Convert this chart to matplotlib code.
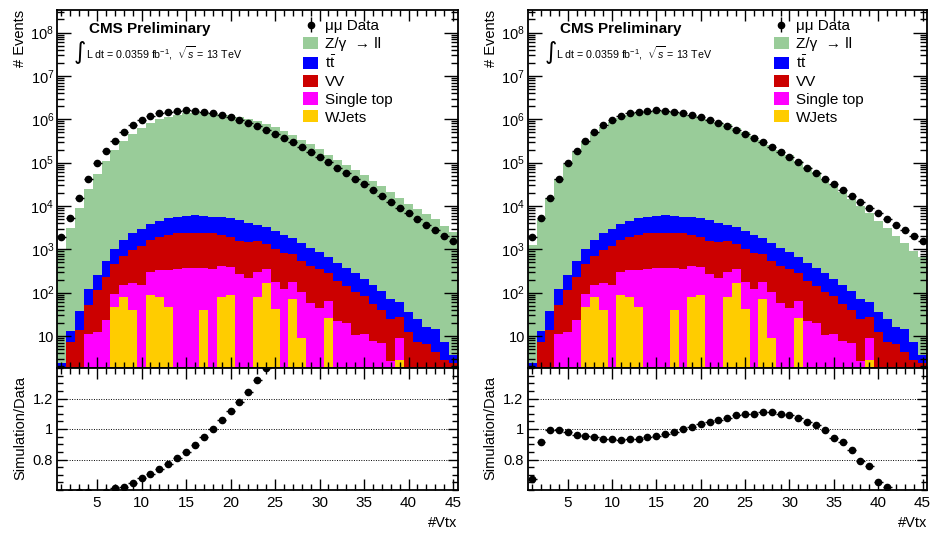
import numpy as np
import matplotlib
matplotlib.use("Agg")
import matplotlib.pyplot as plt
from matplotlib.patches import Patch
from matplotlib.ticker import FixedLocator, LogLocator, MultipleLocator, FuncFormatter, NullFormatter

plt.rcParams['font.family'] = ['Liberation Sans', 'DejaVu Sans']
plt.rcParams['mathtext.fontset'] = 'custom'
plt.rcParams['mathtext.rm'] = 'Liberation Sans'
plt.rcParams['mathtext.it'] = 'Liberation Sans:italic'
plt.rcParams['mathtext.bf'] = 'Liberation Sans:bold'

# ---------------- data ----------------
nvtx = np.arange(1, 46)

data = [1910, 5320, 15630, 41500, 96800, 186200, 321400, 501200, 727800, 948400,
        1172000, 1374000, 1496000, 1578000, 1611000, 1578000, 1472000, 1374000, 1256000, 1130000,
        979500, 835700, 707900, 566200, 465600, 376700, 295100, 230100, 176600, 135200,
        102100, 76740, 57940, 42170, 31770, 23120, 16830, 12590, 9040, 6920,
        5010, 3610, 2770, 2010, 1570]

wjets = [0, 0, 0, 0, 0, 0, 46, 80, 40, 0, 88, 81, 46, 0, 0, 0, 40, 0, 80, 88,
         0, 0, 80, 165, 42, 0, 72, 9.2, 0, 0, 26.5, 0, 0, 0, 0, 0, 0, 0, 2.8, 0,
         0, 0, 0, 0, 0]
single_top = [0, 0, 0, 11.2, 12.6, 24, 46, 70, 125, 150, 217, 252, 287, 346, 365, 365, 325, 355, 337, 310,
              269, 214, 225, 182, 135, 122, 105, 93, 57, 45, 38, 22, 19.7, 10.6, 11.2, 7.7, 6.8, 2.6, 6.4, 0,
              0, 0, 0, 0, 0]
vv = [1.2, 7.1, 13.8, 41, 102, 202, 365, 552, 799, 1061, 1332, 1617, 1805, 1998, 2050, 2050, 1979, 1989, 1682, 1490,
      1316, 1300, 1244, 977, 823, 710, 599, 435, 360, 307, 215, 164, 123, 92, 73, 47, 33, 21.8, 17.9, 12.6,
      7.1, 6.5, 4.2, 2.8, 2.4]
ttbar = [1.2, 6.2, 24, 68, 141, 311, 559, 935, 1380, 1727, 2130, 2621, 3038, 3279, 3528, 3652, 3599, 3279, 3359, 3288,
         3147, 2588, 2082, 1890, 1630, 1306, 1015, 837, 672, 499, 375, 304, 234, 178, 123, 95, 70, 47, 33, 22.7,
         17.7, 9.7, 10.2, 4.4, 1.3]

# Z/gamma -> ll, without (left) and with (right) pileup reweighting
dy_left = [998, 3077, 9145, 24260, 54690, 109060, 195300, 309600, 466400, 639200,
           820100, 1006400, 1144800, 1269400, 1366100, 1410900, 1388100, 1368400, 1322500, 1255800,
           1151300, 1035900, 931500, 789500, 673500, 544100, 426100, 337000, 262000, 202000,
           150700, 114300, 88750, 67330, 51080, 37000, 28070, 20820, 15080, 11190,
           8685, 6591, 4998, 3460, 2566]
dy_right = [1285, 4861, 15510, 41170, 94630, 178160, 305600, 472000, 677500, 882900,
            1085200, 1276400, 1394800, 1485400, 1534100, 1522900, 1439100, 1368400, 1269500, 1161800,
            1022300, 880900, 757400, 614000, 509100, 412700, 326400, 254500, 193300, 146700,
            109100, 79930, 58950, 41510, 29750, 21030, 14450, 9887, 6771, 4489,
            3077, 2026, 1399, 905, 657]

labels = ["Z/\u03b3  \u2192 ll", r"$\mathrm{t\bar{t}}$", "VV", "Single top", "WJets"]
colors = ["#99CC99", "#0000FF", "#CC0000", "#FF00FF", "#FFCC00"]

# ---------------- figure ----------------
W, H = 935, 533
fig = plt.figure(figsize=(W / 100, H / 100), dpi=100)

def fx(px):
    return px / W

def fy(py):
    return 1 - py / H

panels = [
    (57.0, 457.5, dy_left),
    (527.7, 927.0, dy_right),
]

edges = np.arange(0.5, 46.0, 1.0)
data_arr = np.array(data, dtype=float)

for (x0, x1, dy) in panels:
    ax = fig.add_axes([fx(x0), fy(368), fx(x1 - x0), (368 - 9.5) / H])
    axr = fig.add_axes([fx(x0), fy(490), fx(x1 - x0), (490 - 368) / H])

    # positions given in pixels relative to the left panel (frame starts at 57)
    def ax_x(px, x0=x0, x1=x1):
        return (px - 57.0) / (x1 - x0)

    def ax_y(py):
        return 1 - (py - 9.5) / (368 - 9.5)

    comps_bottom_up = [np.array(wjets, float), np.array(single_top, float), np.array(vv, float),
                       np.array(ttbar, float), np.array(dy, float)]
    cols_bottom_up = [colors[4], colors[3], colors[2], colors[1], colors[0]]
    cum = np.cumsum(np.vstack(comps_bottom_up), axis=0)
    for i in range(len(comps_bottom_up) - 1, -1, -1):
        ax.stairs(cum[i], edges, baseline=1e-3, fill=True, color=cols_bottom_up[i], lw=0)
    total = cum[-1]

    ax.errorbar(nvtx, data_arr, xerr=0.5, yerr=np.sqrt(data_arr), fmt='o', color='black',
                ms=4.5, elinewidth=1.0, capsize=0, zorder=5)
    # legend proxy for data (marker with vertical error bar), placed outside the x range
    h_data = ax.errorbar([-100], [1e3], yerr=[600], fmt='o', color='black', ms=4.5,
                         elinewidth=1.0, capsize=0)

    ax.set_yscale('log')
    ax.set_xlim(0.5, 45.5)
    ax.set_ylim(1.83, 3.4e8)
    ax.yaxis.set_major_locator(FixedLocator([10.0 ** k for k in range(1, 9)]))
    ax.yaxis.set_minor_locator(LogLocator(base=10, subs=np.arange(2, 10), numticks=20))
    ax.yaxis.set_minor_formatter(NullFormatter())
    ax.yaxis.set_major_formatter(FuncFormatter(
        lambda v, p: "10" if abs(v - 10) < 1e-6 else r"$10^{%d}$" % int(round(np.log10(v)))))
    ax.xaxis.set_major_locator(MultipleLocator(5))
    ax.xaxis.set_minor_locator(MultipleLocator(1))
    ax.tick_params(which='both', direction='in', top=True, right=True, labelbottom=False,
                   labelsize=10.5, pad=2, width=1.0)
    ax.tick_params(axis='y', which='major', length=10)
    ax.tick_params(axis='y', which='minor', length=5)
    ax.tick_params(axis='x', which='major', length=8)
    ax.tick_params(axis='x', which='minor', length=4)
    for s in ax.spines.values():
        s.set_linewidth(1.3)

    # texts
    ax.text(ax_x(89), ax_y(29), "CMS Preliminary",
            transform=ax.transAxes, fontsize=11, fontweight='bold', ha='left', va='center')
    ax.text(ax_x(73.5), ax_y(52.5), "\u222b", transform=ax.transAxes, fontsize=17,
            family='DejaVu Sans', ha='left', va='center')
    ax.text(ax_x(85.5), ax_y(53.5),
            r"L dt = 0.0359 fb$^{-1}$,  $\sqrt{s}$ = 13 TeV",
            transform=ax.transAxes, fontsize=7.7, ha='left', va='center')

    # legend
    handles = [h_data] + [Patch(facecolor=c, edgecolor='none') for c in colors]
    leg_labels = ["\u03bc\u03bc Data"] + labels
    ax.legend(handles, leg_labels,
              loc='upper left', bbox_to_anchor=(ax_x(303), ax_y(19)),
              frameon=False, fontsize=11, borderpad=0, borderaxespad=0,
              handlelength=1.0, handleheight=0.85, handletextpad=0.45, labelspacing=0.22)

    # ratio
    ratio = total / data_arr
    axr.errorbar(nvtx, ratio, xerr=0.5, yerr=ratio / np.sqrt(data_arr), fmt='o', color='black',
                 ms=4.5, elinewidth=1.0, capsize=0, zorder=5)
    for g in [0.8, 1.0, 1.2]:
        axr.axhline(g, color='black', lw=0.7, ls=(0, (1, 1.5)), zorder=1)
    axr.set_xlim(0.5, 45.5)
    axr.set_ylim(0.6, 1.4)
    axr.yaxis.set_major_locator(FixedLocator([0.8, 1.0, 1.2]))
    axr.yaxis.set_minor_locator(MultipleLocator(0.05))
    axr.yaxis.set_major_formatter(FuncFormatter(lambda v, p: "%g" % v))
    axr.xaxis.set_major_locator(MultipleLocator(5))
    axr.xaxis.set_minor_locator(MultipleLocator(1))
    axr.tick_params(which='both', direction='in', top=True, right=True, labelsize=10.5, width=1.0)
    axr.tick_params(axis='y', which='major', length=7, pad=3)
    axr.tick_params(axis='y', which='minor', length=4)
    axr.tick_params(axis='x', which='major', length=8, pad=4, labelsize=11)
    axr.tick_params(axis='x', which='minor', length=4)
    for s in axr.spines.values():
        s.set_linewidth(1.3)

    # axis titles
    fig.text(fx(x0 - 37), fy(10), "# Events", rotation=90, ha='center', va='top', fontsize=10.5)
    fig.text(fx(x0 - 37), fy(428), "Simulation/Data", rotation=90, ha='center', va='center', fontsize=10.5)
    fig.text(fx(x1), fy(523), "#Vtx", ha='right', va='center', fontsize=10.5)

fig.savefig("out.png", dpi=100, facecolor='white')
